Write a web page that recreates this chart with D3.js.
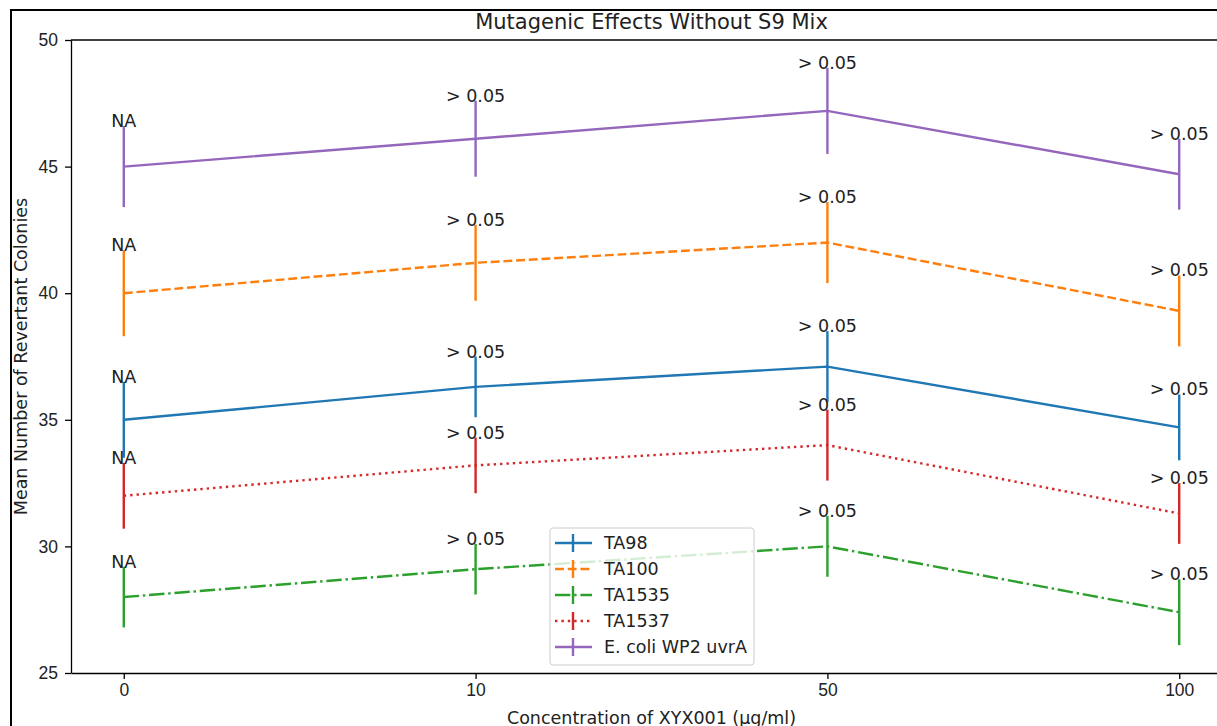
<!DOCTYPE html>
<meta charset="utf-8">
<head>
    <script src="https://cdn.jsdelivr.net/npm/d3@7"></script>
    <style>
        body { margin: 0; background: #fff; }
        svg { font-family: "DejaVu Sans", sans-serif; }
        .tick line, .domain { stroke: #000; stroke-width: 1.3px; }
    </style>
</head>
<body>
<script>
    // data
    var concentrations = ["0", "10", "50", "100"];
    var strains = ["TA98", "TA100", "TA1535", "TA1537", "E. coli WP2 uvrA"];
    var ta98 = [35, 36.3, 37.1, 34.7];
    var ta98Err = [1.5, 1.2, 1.4, 1.3];
    var ta100 = [40, 41.2, 42, 39.3];
    var ta100Err = [1.7, 1.5, 1.6, 1.4];
    var ta1535 = [28, 29.1, 30, 27.4];
    var ta1535Err = [1.2, 1.0, 1.2, 1.3];
    var ta1537 = [32, 33.2, 34, 31.3];
    var ta1537Err = [1.3, 1.1, 1.4, 1.2];
    var ecoli = [45, 46.1, 47.2, 44.7];
    var ecoliErr = [1.6, 1.5, 1.7, 1.4];
    var pLabels = ["NA", "> 0.05", "> 0.05", "> 0.05"];
    var yTicks = [25, 30, 35, 40, 45, 50];

    var colors = ["#1f77b4", "#ff7f0e", "#2ca02c", "#d62728", "#9467bd"];
    var dashes = [null, "8.9,3.8", "15.4,3.8,2.4,3.8", "2.4,4", null];

    var series = [
        {name: strains[0], vals: ta98, err: ta98Err},
        {name: strains[1], vals: ta100, err: ta100Err},
        {name: strains[2], vals: ta1535, err: ta1535Err},
        {name: strains[3], vals: ta1537, err: ta1537Err},
        {name: strains[4], vals: ecoli, err: ecoliErr}
    ];

    var w = 1217, h = 726;
    var mLeft = 71, mTop = 40, mRight = 1232, mBottom = 673;
    var fs = 17.5;

    var svg = d3.select("body").append("svg")
        .attr("width", w).attr("height", h);

    // outer frame (cut off on right and bottom)
    svg.append("rect")
        .attr("x", 11).attr("y", 10)
        .attr("width", 1400).attr("height", 1000)
        .attr("fill", "none").attr("stroke", "#000").attr("stroke-width", 2);

    var x = d3.scalePoint().domain(concentrations).range([mLeft, mRight]).padding(0.15);
    var y = d3.scaleLinear().domain([25, 50]).range([mBottom, mTop]);

    svg.append("g")
        .attr("transform", "translate(0," + mBottom + ")")
        .call(d3.axisBottom(x).tickSize(6).tickPadding(5).tickSizeOuter(0));
    svg.append("g")
        .attr("transform", "translate(" + mLeft + ",0)")
        .call(d3.axisLeft(y).tickValues(yTicks).tickSize(6).tickPadding(7).tickSizeOuter(0));
    svg.selectAll(".tick text").attr("font-size", fs).attr("fill", "#222");
    // top spine
    svg.append("line")
        .attr("x1", mLeft).attr("x2", mRight).attr("y1", mTop).attr("y2", mTop)
        .attr("stroke", "#000").attr("stroke-width", 1.3);

    var line = d3.line()
        .x(function(d, i) { return x(concentrations[i]); })
        .y(function(d) { return y(d); });

    series.forEach(function(s, k) {
        var g = svg.append("g");
        g.append("path")
            .datum(s.vals)
            .attr("d", line)
            .attr("fill", "none")
            .attr("stroke", colors[k])
            .attr("stroke-width", 2.4)
            .attr("stroke-dasharray", dashes[k]);
        g.selectAll(".err")
            .data(s.vals)
            .enter().append("line")
            .attr("x1", function(d, i) { return x(concentrations[i]); })
            .attr("x2", function(d, i) { return x(concentrations[i]); })
            .attr("y1", function(d, i) { return y(d + s.err[i]); })
            .attr("y2", function(d, i) { return y(d - s.err[i]); })
            .attr("stroke", colors[k])
            .attr("stroke-width", 2.4);
        g.selectAll(".plab")
            .data(s.vals)
            .enter().append("text")
            .attr("x", function(d, i) { return x(concentrations[i]); })
            .attr("y", function(d, i) { return y(d + s.err[i]) + 1; })
            .attr("text-anchor", "middle")
            .attr("font-size", fs)
            .attr("fill", "#222")
            .text(function(d, i) { return pLabels[i]; });
    });

    // title and axis labels
    svg.append("text")
        .attr("x", (mLeft + mRight) / 2).attr("y", 29)
        .attr("text-anchor", "middle").attr("font-size", 21).attr("fill", "#222")
        .text("Mutagenic Effects Without S9 Mix");
    svg.append("text")
        .attr("x", (mLeft + mRight) / 2).attr("y", 724)
        .attr("text-anchor", "middle").attr("font-size", fs).attr("fill", "#222")
        .text("Concentration of XYX001 (µg/ml)");
    svg.append("text")
        .attr("transform", "translate(27," + ((mTop + mBottom) / 2) + ") rotate(-90)")
        .attr("text-anchor", "middle").attr("font-size", fs).attr("fill", "#222")
        .text("Mean Number of Revertant Colonies");

    // legend
    var lg = svg.append("g").attr("transform", "translate(550,528)");
    lg.append("rect")
        .attr("width", 204).attr("height", 137).attr("rx", 3)
        .attr("fill", "#fff").attr("fill-opacity", 0.8)
        .attr("stroke", "#ccc").attr("stroke-width", 1);
    var rows = lg.selectAll(".row")
        .data(series)
        .enter().append("g")
        .attr("transform", function(d, i) { return "translate(0," + (15 + i * 26) + ")"; });
    rows.append("line")
        .attr("x1", 5).attr("x2", 42)
        .attr("stroke", function(d, i) { return colors[i]; })
        .attr("stroke-width", 2.4)
        .attr("stroke-dasharray", function(d, i) { return dashes[i]; });
    rows.append("line")
        .attr("x1", 23).attr("x2", 23).attr("y1", -9).attr("y2", 9)
        .attr("stroke", function(d, i) { return colors[i]; })
        .attr("stroke-width", 2.4);
    rows.append("text")
        .attr("x", 54).attr("y", 6)
        .attr("font-size", fs).attr("fill", "#222")
        .text(function(d) { return d.name; });
</script>
</body>
